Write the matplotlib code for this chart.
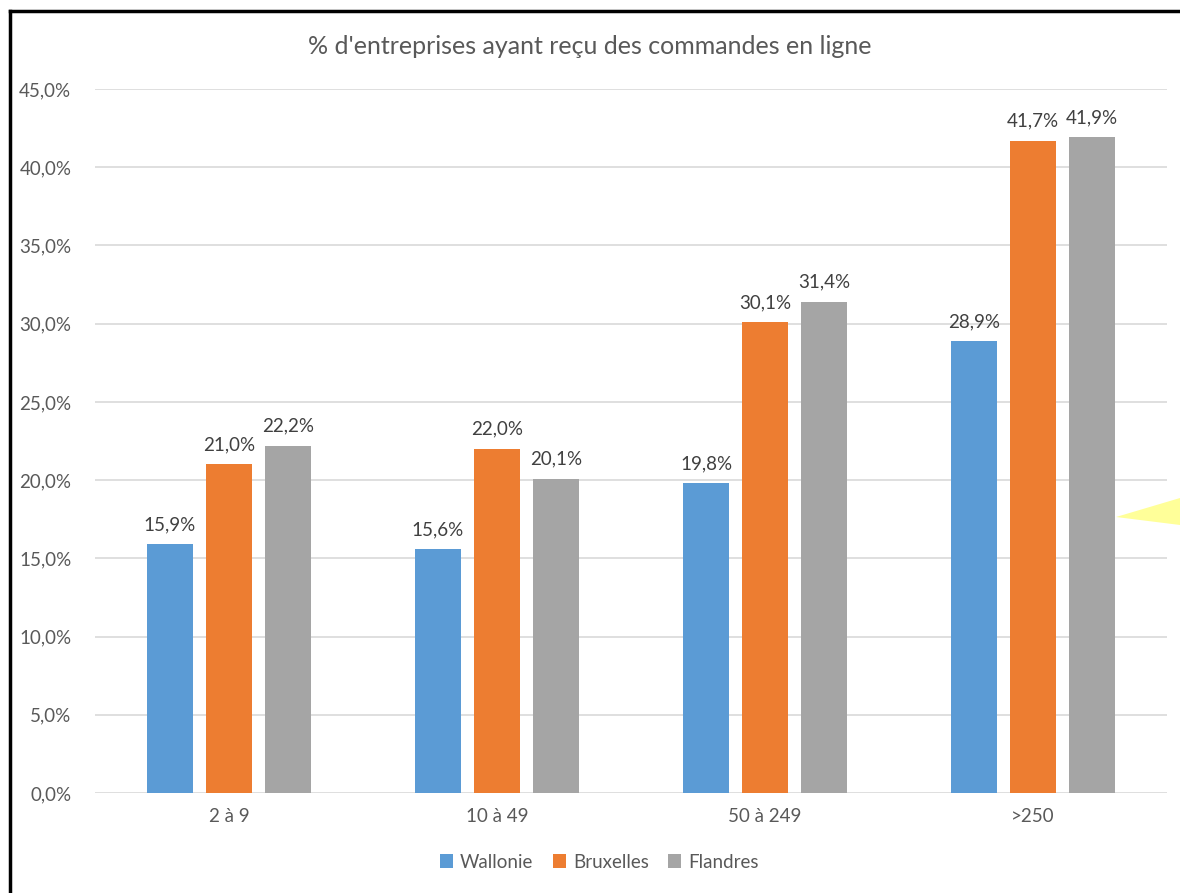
import numpy as np
import matplotlib.pyplot as plt
from matplotlib.patches import Polygon
from matplotlib.lines import Line2D

categories = ["2 à 9", "10 à 49", "50 à 249", ">250"]
regions = ["Wallonie", "Bruxelles", "Flandres"]
wallonie = [15.9, 15.6, 19.8, 28.9]
bruxelles = [21.0, 22.0, 30.1, 41.7]
flandres = [22.2, 20.1, 31.4, 41.9]
colors = ["#5B9BD5", "#ED7D31", "#A5A5A5"]

plt.rcParams['font.family'] = ['Lato', 'DejaVu Sans']

fig = plt.figure(figsize=(11.8, 8.93), dpi=100)
ax = fig.add_axes([95/1180, 1 - 793/893, 1072/1180, 704/893])

x = np.arange(len(categories))
width = 0.175
step = 0.22
for i, (vals, col) in enumerate(zip([wallonie, bruxelles, flandres], colors)):
    pos = x + (i - 1) * step
    ax.bar(pos, vals, width=width, color=col, label=regions[i], zorder=3)
    for p, v in zip(pos, vals):
        ax.text(p, v + 0.7, f"{v:.1f}%".replace(".", ","), ha='center', va='bottom',
                fontsize=13.5, color='#404040')

ax.set_xlim(-0.5, 3.5)
ax.set_ylim(0, 45)
yt = np.arange(0, 46, 5)
ax.set_yticks(yt)
ax.set_yticklabels([f"{t:.1f}%".replace(".", ",") for t in yt])
ax.set_xticks(x)
ax.set_xticklabels(categories)
ax.tick_params(length=0, labelsize=13.5, labelcolor='#595959')
ax.tick_params(axis='y', pad=17)
ax.tick_params(axis='x', pad=11)
ax.grid(axis='y', color='#D9D9D9', linewidth=1.2, zorder=0)
for s in ax.spines.values():
    s.set_visible(False)

fig.text(0.5, 1 - 47/893, "% d'entreprises ayant reçu des commandes en ligne",
         ha='center', va='center', fontsize=18, color='#595959')

leg = fig.legend(loc='center', bbox_to_anchor=(0.508, 1 - 862/893), ncol=3, frameon=False,
                 fontsize=13.5, handlelength=0.7, handleheight=0.7, columnspacing=1.05,
                 handletextpad=0.35)
for t in leg.get_texts():
    t.set_color('#595959')

# outer frame (top and left edges)
fig.add_artist(Line2D([10/1180, 1], [1 - 11/893, 1 - 11/893], color='black', linewidth=2.5))
fig.add_artist(Line2D([10/1180, 10/1180], [0, 1 - 11/893], color='black', linewidth=2.5))

# yellow callout tip
tri = Polygon([(1116/1180, 1 - 517/893), (1, 1 - 498/893), (1, 1 - 525/893)],
              closed=True, facecolor='#FFFF99', edgecolor='none', transform=fig.transFigure)
fig.add_artist(tri)

fig.savefig("out.png", dpi=100)
